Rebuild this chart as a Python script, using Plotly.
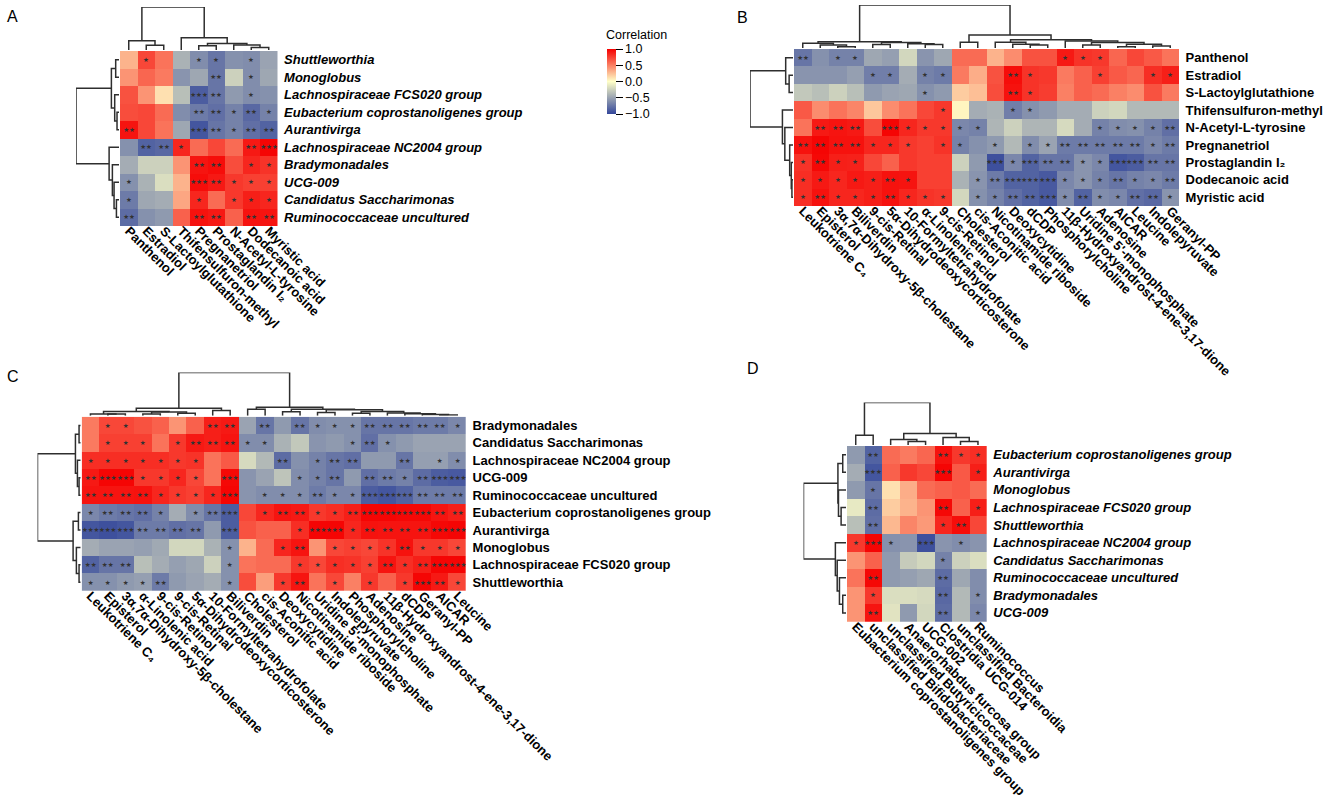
import plotly.graph_objects as go

# ---------- Panel A ----------
A_ROWS = ["Shuttleworthia", "Monoglobus", "Lachnospiraceae FCS020 group", "Eubacterium coprostanoligenes group",
          "Aurantivirga", "Lachnospiraceae NC2004 group", "Bradymonadales", "UCG-009",
          "Candidatus Saccharimonas", "Ruminococcaceae uncultured"]
A_COLS = ["Panthenol", "Estradiol", "S-Lactoylglutathione", "Thifensulfuron-methyl", "Pregnanetriol",
          "Prostaglandin I₂", "N-Acetyl-L-tyrosine", "Dodecanoic acid", "Myristic acid"]
A_VALUES = [
    [.30, .72, .55, -.42, -.62, -.75, -.60, -.62, -.50],
    [.42, .60, .52, -.58, -.48, -.75, -.25, -.62, -.48],
    [.68, .42, .12, -.35, -.88, -.75, -.55, -.62, -.60],
    [.70, .72, .58, -.62, -.72, -.78, -.68, -.82, -.68],
    [.92, .72, .55, -.48, -.92, -.75, -.68, -.78, -.85],
    [-.60, -.85, -.82, .85, .58, .72, .58, .90, .98],
    [-.45, -.25, -.25, .42, .92, .95, .70, .85, .80],
    [-.60, -.42, -.18, .30, .95, .90, .78, .75, .75],
    [-.72, -.48, -.45, .35, .85, .58, .78, .88, .85],
    [-.80, -.60, -.55, .62, .93, .90, .62, .93, .92],
]
A_STARS = [
    [0, 1, 0, 0, 1, 1, 0, 1, 0],
    [0, 0, 0, 0, 0, 2, 0, 1, 0],
    [0, 0, 0, 0, 3, 2, 0, 1, 0],
    [0, 0, 0, 0, 2, 2, 1, 2, 1],
    [2, 0, 0, 0, 3, 2, 1, 2, 2],
    [0, 2, 2, 1, 0, 0, 0, 2, 3],
    [0, 0, 0, 0, 2, 2, 0, 1, 1],
    [1, 0, 0, 0, 3, 2, 1, 1, 1],
    [1, 0, 0, 0, 1, 0, 1, 1, 1],
    [2, 0, 0, 0, 2, 2, 0, 2, 2],
]
# dendrograms: (merge height, left branch, right branch); integers are leaves
A_TOP = (1.0, (.215, 0, (.108, 1, 2)),
         (.285, 3, (.154, (.10, 4, 5), (.115, 6, (.06, 7, 8)))))
A_LEFT = (1.0, (.177, (.077, 0, 1), (.10, 2, (.046, 3, 4))),
          (.23, 5, (.154, 6, (.115, 7, (.06, 8, 9)))))

# ---------- Panel B ----------
B_ROWS = ["Panthenol", "Estradiol", "S-Lactoylglutathione", "Thifensulfuron-methyl", "N-Acetyl-L-tyrosine",
          "Pregnanetriol", "Prostaglandin I₂", "Dodecanoic acid", "Myristic acid"]
B_COLS = ["Leukotriene C₄", "Episterol", "3α,7α-Dihydroxy-5β-cholestane", "Biliverdin", "9-cis-Retinal",
          "5α-Dihydrodeoxycorticosterone", "10-Formyltetrahydrofolate", "α-Linolenic acid", "9-cis-Retinol",
          "Cholesterol", "cis-Aconitic acid", "Nicotinamide riboside", "Deoxycytidine", "dCDP",
          "Phosphorylcholine", "11β-Hydroxyandrost-4-ene-3,17-dione", "Uridine 5'-monophosphate", "Adenosine",
          "AICAR", "Leucine", "Indolepyruvate", "Geranyl-PP"]
B_VALUES = [
    [-.75, -.60, -.68, -.68, -.48, -.52, -.22, -.58, -.48, .58, .58, .30, .45, .68, .68, .90, .80, .78, .60, .72, .65, .55],
    [-.58, -.58, -.58, -.52, -.70, -.70, -.45, -.68, -.72, .52, .32, .68, .95, .80, .78, .52, .62, .75, .65, .60, .82, .88],
    [-.30, -.35, -.25, -.35, -.55, -.50, -.48, -.60, -.55, .20, .25, .70, .93, .80, .76, .50, .62, .58, .50, .45, .68, .52],
    [.65, .45, .55, .48, .22, .45, .55, .72, .78, .04, -.45, -.42, -.70, -.60, -.55, -.45, -.45, -.25, -.22, -.38, -.38, -.38],
    [.55, .90, .92, .90, .70, .98, .85, .78, .78, -.65, -.68, -.40, -.25, -.40, -.40, -.20, -.45, -.68, -.62, -.60, -.68, -.78],
    [.93, .98, .93, .93, .85, .85, .78, .75, .80, -.68, -.60, -.55, -.38, -.62, -.50, -.72, -.72, -.72, -.72, -.72, -.65, -.72],
    [.80, .97, .88, .87, .72, .62, .78, .75, .75, -.25, -.55, -.95, -.65, -.85, -.75, -.75, -.58, -.65, -.92, -.88, -.75, -.75],
    [.82, .90, .85, .90, .88, .93, .92, .75, .75, -.42, -.58, -.72, -.85, -.85, -.90, -.65, -.58, -.68, -.75, -.68, -.65, -.72],
    [.82, .93, .85, .85, .88, .93, .85, .80, .78, -.22, -.60, -.68, -.78, -.85, -.90, -.62, -.85, -.62, -.65, -.78, -.82, -.58],
]
B_STARS = [
    [2, 0, 1, 1, 0, 0, 0, 0, 0, 0, 0, 0, 0, 0, 0, 1, 1, 1, 0, 0, 0, 0],
    [0, 0, 0, 0, 1, 1, 0, 1, 1, 0, 0, 0, 2, 1, 0, 0, 0, 1, 0, 0, 1, 1],
    [0, 0, 0, 0, 0, 0, 0, 1, 0, 0, 0, 0, 2, 1, 0, 0, 0, 0, 0, 0, 0, 0],
    [0, 0, 0, 0, 0, 0, 0, 0, 1, 0, 0, 0, 1, 1, 0, 0, 0, 0, 0, 0, 0, 0],
    [0, 2, 2, 2, 0, 3, 1, 1, 1, 1, 1, 0, 0, 0, 0, 0, 0, 1, 1, 1, 1, 2],
    [2, 2, 2, 2, 1, 1, 1, 0, 1, 1, 0, 1, 0, 1, 1, 2, 2, 2, 2, 2, 1, 2],
    [1, 2, 1, 1, 0, 0, 0, 0, 0, 0, 0, 3, 1, 3, 2, 2, 1, 1, 3, 3, 2, 2],
    [1, 1, 1, 1, 1, 2, 1, 0, 0, 0, 1, 2, 3, 3, 3, 1, 1, 1, 2, 1, 1, 2],
    [1, 2, 1, 1, 1, 2, 1, 1, 1, 0, 1, 1, 2, 2, 3, 1, 2, 1, 1, 2, 2, 1],
]
B_TOP = (1.0,
         (.145, (.11, 0, (.07, 1, (.03, 2, 3))),
          (.13, (.08, 4, 5), (.10, 6, (.08, 7, 8)))),
         (.305, (.135, 9, 10),
          (.19, (.135, 11, (.09, 12, (.07, 13, 14))),
           (.16, 15, (.13, (.07, 16, 17), (.085, (.03, 18, 19), (.045, 20, 21)))))))
B_LEFT = (1.0, (.17, 0, (.09, 1, 2)),
          (.246, 3, (.19, 4, (.077, 5, (.04, 6, (.025, 7, 8))))))

# ---------- Panel C ----------
C_ROWS = ["Bradymonadales", "Candidatus Saccharimonas", "Lachnospiraceae NC2004 group", "UCG-009",
          "Ruminococcaceae uncultured", "Eubacterium coprostanoligenes group", "Aurantivirga", "Monoglobus",
          "Lachnospiraceae FCS020 group", "Shuttleworthia"]
C_COLS = ["Leukotriene C₄", "Episterol", "3α,7α-Dihydroxy-5β-cholestane", "α-Linolenic acid", "9-cis-Retinol",
          "9-cis-Retinal", "5α-Dihydrodeoxycorticosterone", "10-Formyltetrahydrofolate", "Biliverdin",
          "Cholesterol", "cis-Aconitic acid", "Deoxycytidine", "Nicotinamide riboside",
          "Uridine 5'-monophosphate", "Indolepyruvate", "Phosphorylcholine", "Adenosine",
          "11β-Hydroxyandrost-4-ene-3,17-dione", "dCDP", "Geranyl-PP", "AICAR", "Leucine"]
C_VALUES = [
    [.52, .72, .72, .68, .62, .42, .62, .88, .90, -.50, -.75, -.55, -.75, -.62, -.60, -.60, -.75, -.75, -.75, -.72, -.72, -.65],
    [.52, .75, .75, .75, .55, .78, .90, .88, .92, -.62, -.62, -.42, -.30, -.58, -.55, -.60, -.78, -.60, -.55, -.50, -.50, -.50],
    [.82, .82, .82, .82, .82, .78, .80, .55, .65, -.20, -.38, -.80, -.60, -.68, -.75, -.78, -.55, -.55, -.75, -.52, -.52, -.62],
    [.90, .98, .98, .78, .78, .85, .72, .55, .97, -.58, -.50, -.32, -.62, -.68, -.75, -.55, -.78, -.72, -.68, -.80, -.88, -.90],
    [.92, .92, .92, .93, .85, .78, .75, .85, .98, -.58, -.62, -.62, -.62, -.72, -.65, -.65, -.88, -.92, -.85, -.72, -.72, -.72],
    [-.65, -.72, -.75, -.78, -.68, -.45, -.62, -.75, -.88, .72, .85, .92, .90, .78, .82, .88, .98, .98, .97, .97, .92, .88],
    [-.92, -.95, -.92, -.72, -.72, -.78, -.75, -.55, -.88, .68, .62, .62, .82, .98, .98, .85, .93, .92, .92, .92, .97, .98],
    [-.45, -.50, -.50, -.52, -.47, -.22, -.22, -.42, -.60, .30, .58, .85, .92, .42, .72, .75, .72, .80, .93, .78, .78, .72],
    [-.85, -.75, -.75, -.35, -.45, -.52, -.48, -.25, -.60, .55, .58, .58, .78, .72, .82, .80, .75, .92, .82, .88, .98, .98],
    [-.60, -.60, -.55, -.52, -.72, -.55, -.50, -.45, -.60, .70, .38, .78, .92, .55, .72, .50, .78, .62, .78, .98, .90, .72],
]
C_STARS = [
    [0, 1, 1, 0, 0, 0, 0, 2, 2, 0, 2, 0, 2, 1, 1, 1, 2, 2, 2, 2, 2, 1],
    [0, 1, 1, 1, 0, 1, 2, 2, 2, 1, 1, 0, 0, 0, 0, 1, 2, 1, 0, 0, 0, 0],
    [1, 1, 1, 1, 1, 1, 1, 0, 0, 0, 0, 2, 0, 1, 2, 2, 0, 0, 2, 0, 1, 1],
    [2, 3, 3, 1, 1, 1, 1, 0, 3, 0, 0, 0, 1, 1, 2, 0, 2, 2, 1, 2, 3, 3],
    [2, 2, 2, 2, 1, 1, 1, 1, 3, 0, 1, 1, 1, 2, 1, 1, 3, 3, 3, 2, 2, 2],
    [1, 2, 2, 2, 1, 0, 1, 2, 3, 0, 1, 2, 2, 1, 1, 2, 3, 3, 3, 3, 2, 2],
    [3, 3, 3, 2, 2, 2, 2, 0, 3, 0, 0, 0, 1, 3, 3, 1, 2, 2, 2, 2, 3, 3],
    [0, 0, 0, 0, 0, 0, 0, 0, 1, 0, 0, 1, 2, 0, 1, 1, 1, 1, 2, 1, 1, 1],
    [2, 2, 2, 0, 0, 0, 0, 0, 1, 0, 0, 0, 1, 1, 1, 1, 1, 2, 1, 2, 3, 3],
    [1, 1, 1, 1, 2, 0, 0, 0, 1, 0, 0, 1, 2, 0, 1, 0, 1, 0, 1, 3, 2, 1],
]
C_TOP = (1.0,
         (.175, (.095, (.04, 0, (.04, 1, 2)), (.085, (.04, 3, 4), (.055, 5, 6))),
          (.12, 7, 8)),
         (.195, (.15, 9, 10),
          (.15, (.09, 11, 12),
           (.135, (.075, 13, 14),
            (.10, (.055, 15, 16),
             (.06, 17, (.045, 18, (.03, 19, (.015, 20, 21)))))))))
C_LEFT = (1.0, (.122, (.038, 0, 1), (.076, 2, (.038, 3, 4))),
          (.176, (.053, 5, 6), (.10, 7, (.038, 8, 9))))

# ---------- Panel D ----------
D_ROWS = ["Eubacterium coprostanoligenes group", "Aurantivirga", "Monoglobus", "Lachnospiraceae FCS020 group",
          "Shuttleworthia", "Lachnospiraceae NC2004 group", "Candidatus Saccharimonas",
          "Ruminococcaceae uncultured", "Bradymonadales", "UCG-009"]
D_COLS = ["Eubacterium coprostanoligenes group", "unclassified Bifidobacteriaceae", "unclassified Butyricicoccaceae",
          "Anaerorhabdus furcosa group", "UCG-002", "Clostridia UCG-014", "unclassified Bacteroidia", "Ruminococcus"]
D_VALUES = [
    [-.55, -.85, .58, .52, .60, .93, .78, .82],
    [-.45, -.92, .62, .78, .72, .98, .65, .88],
    [-.55, -.75, .12, .32, .58, .62, .65, .58],
    [-.12, -.80, .20, .30, .42, .97, .62, .88],
    [-.35, -.78, .28, .48, .40, .85, .95, .72],
    [.78, .98, -.60, -.58, -.95, -.58, -.62, -.58],
    [.42, .62, -.55, -.28, -.22, -.68, -.25, -.18],
    [.55, .97, -.55, -.52, -.48, -.80, -.48, -.62],
    [.42, .78, -.18, -.18, -.20, -.82, -.38, -.62],
    [.42, .92, -.15, -.55, -.22, -.80, -.38, -.65],
]
D_STARS = [
    [0, 2, 0, 0, 0, 2, 1, 1],
    [0, 3, 0, 0, 0, 3, 0, 1],
    [0, 1, 0, 0, 0, 0, 0, 0],
    [0, 2, 0, 0, 0, 2, 0, 1],
    [0, 2, 0, 0, 0, 1, 2, 0],
    [1, 3, 1, 0, 3, 0, 1, 0],
    [0, 0, 0, 0, 0, 1, 0, 0],
    [0, 2, 0, 0, 0, 2, 0, 0],
    [0, 1, 0, 0, 0, 2, 0, 1],
    [0, 2, 0, 0, 0, 2, 0, 1],
]
D_TOP = (1.0, (.23, 0, 1),
         (.27, (.13, 2, (.085, 3, 4)), (.175, 5, (.085, 6, 7))))
D_LEFT = (1.0, (.19, (.077, 0, 1), (.177, 2, (.115, 3, 4))),
          (.25, 5, (.207, 6, (.154, 7, (.077, 8, 9)))))

COLORBAR_TITLE = "Correlation"
COLORBAR_TICKS = [-1, -0.5, 0, 0.5, 1]
COLORBAR_LABELS = ["−1.0", "−0.5", "0.0", "0.5", "1.0"]

# ---------- layout constants (pixels on the 1325 x 800 page) ----------
W, H = 1325, 800
FONT = "Liberation Sans"
LINE = "#2e2e2e"
COLORSCALE = [[0, "#34479B"], [0.5, "#FFFFC8"], [1, "#F50000"]]
FS = 13


def xdom(a, b):
    return [a / W, b / W]


def ydom(top, bottom):
    return [1 - bottom / H, 1 - top / H]


def tree_segments(node):
    """Return (leaf position, height, xs, hs) for a nested merge tree."""
    if isinstance(node, int):
        return node, 0.0, [], []
    h, left, right = node
    xl, hl, xs1, hs1 = tree_segments(left)
    xr, hr, xs2, hs2 = tree_segments(right)
    xs = xs1 + xs2 + [xl, xl, xr, xr, None]
    hs = hs1 + hs2 + [hl, h, h, hr, None]
    return (xl + xr) / 2, h, xs, hs


fig = go.Figure()
layout = {}
axis_no = [0]


def add_axes(dom_x, dom_y, xopts, yopts):
    axis_no[0] += 1
    n = axis_no[0]
    sx = "" if n == 1 else str(n)
    layout["xaxis" + sx] = dict(domain=dom_x, anchor="y" + sx, **xopts)
    layout["yaxis" + sx] = dict(domain=dom_y, anchor="x" + sx, **yopts)
    return "x" + sx, "y" + sx


HIDDEN = dict(visible=False, fixedrange=True, showgrid=False, zeroline=False)


def add_panel(rows, cols, values, stars, top_tree, left_tree, box, top_y, left_x, italic):
    x0, x1, y0, y1 = box
    font = dict(family=FONT, size=FS, color="black", weight="bold")
    if italic:
        rfont = dict(font, style="italic")
    else:
        rfont = font
    xa, ya = add_axes(
        xdom(x0, x1), ydom(y0, y1),
        dict(type="category", tickmode="array", tickvals=cols, ticktext=cols, tickangle=45,
             tickfont=font, ticks="", ticklen=0, ticklabelstandoff=-6,
             showgrid=False, zeroline=False, showline=False, fixedrange=True),
        dict(type="category", tickmode="array", tickvals=rows, ticktext=rows, side="right",
             autorange="reversed", tickfont=rfont, ticks="outside", ticklen=3,
             tickcolor="rgba(0,0,0,0)", showgrid=False, zeroline=False, showline=False, fixedrange=True),
    )
    fig.add_trace(go.Heatmap(
        z=values, x=cols, y=rows, xaxis=xa, yaxis=ya, coloraxis="coloraxis",
        text=[["★" * s for s in r] for r in stars], texttemplate="%{text}",
        textfont=dict(family="DejaVu Sans", size=6.5, color="#333333"), hoverinfo="skip"))

    # top dendrogram: leaves follow the column positions
    _, _, xs, hs = tree_segments(top_tree)
    xa, ya = add_axes(xdom(x0, x1), ydom(top_y, y0 - 1),
                      dict(HIDDEN, range=[-0.5, len(cols) - 0.5]), dict(HIDDEN, range=[0, 1]))
    fig.add_trace(go.Scatter(x=xs, y=hs, xaxis=xa, yaxis=ya, mode="lines", cliponaxis=False,
                             line=dict(color=LINE, width=1.5), hoverinfo="skip", showlegend=False))

    # left dendrogram: leaves follow the row positions
    _, _, ys, hs = tree_segments(left_tree)
    xa, ya = add_axes(xdom(left_x, x0 - 1), ydom(y0, y1),
                      dict(HIDDEN, range=[1, 0]), dict(HIDDEN, range=[len(rows) - 0.5, -0.5]))
    fig.add_trace(go.Scatter(x=hs, y=ys, xaxis=xa, yaxis=ya, mode="lines", cliponaxis=False,
                             line=dict(color=LINE, width=1.5), hoverinfo="skip", showlegend=False))


add_panel(A_ROWS, A_COLS, A_VALUES, A_STARS, A_TOP, A_LEFT, (120, 277.5, 51, 226), 7, 76, True)
add_panel(B_ROWS, B_COLS, B_VALUES, B_STARS, B_TOP, B_LEFT, (794, 1179, 49, 206), 5, 750, False)
add_panel(C_ROWS, C_COLS, C_VALUES, C_STARS, C_TOP, C_LEFT, (81.7, 466, 416.7, 591), 372.5, 37.5, False)
add_panel(D_ROWS, D_COLS, D_VALUES, D_STARS, D_TOP, D_LEFT, (847, 986.7, 446, 621.7), 402.5, 803.5, True)

letters = [("A", 5, 17), ("B", 735, 18), ("C", 5, 376), ("D", 745, 368)]
annotations = [dict(text=t, x=x / W, y=1 - y / H, xref="paper", yref="paper", xanchor="left", yanchor="middle",
                    showarrow=False, font=dict(family=FONT, size=16, color="black"))
               for t, x, y in letters]
annotations.append(dict(text=COLORBAR_TITLE, x=607 / W, y=1 - 35 / H, xref="paper", yref="paper",
                        xanchor="left", yanchor="middle", showarrow=False, xshift=-3,
                        font=dict(family=FONT, size=12.5, color="black")))

fig.update_layout(
    width=W, height=H, margin=dict(l=0, r=0, t=0, b=0, pad=0, autoexpand=False),
    paper_bgcolor="white", plot_bgcolor="white", showlegend=False,
    font=dict(family=FONT, color="black"), annotations=annotations,
    coloraxis=dict(
        colorscale=COLORSCALE, cmin=-1, cmax=1,
        colorbar=dict(
            x=607 / W, xanchor="left", xpad=0, y=1 - 49 / H, yanchor="top", ypad=0,
            len=64.5, lenmode="pixels", thickness=9, thicknessmode="pixels", outlinewidth=0,
            tickmode="array", tickvals=COLORBAR_TICKS, ticktext=COLORBAR_LABELS,
            ticks="outside", ticklen=7, tickcolor="black", tickwidth=1.3,
            tickfont=dict(family=FONT, size=12.5, color="black")),
    ),
    **layout,
)
fig.write_html("out.html", post_script="document.body.style.margin='0';",
               config=dict(displayModeBar=False))
